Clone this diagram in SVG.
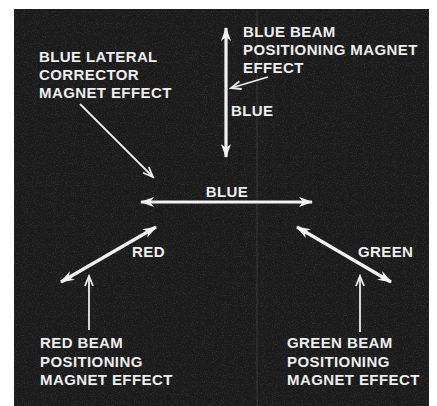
<svg xmlns="http://www.w3.org/2000/svg" width="437" height="406" viewBox="0 0 437 406">
<style>
.lbl{font-family:"Liberation Sans",Arial,sans-serif;font-weight:bold;font-size:15px;fill:#eeeeee;letter-spacing:0.4px}
.main{stroke:#f2f2f2;stroke-width:3.2;fill:none}
.ptr{stroke:#ececec;stroke-width:1.8;fill:none}
</style>
<defs>
<marker id="head" markerUnits="userSpaceOnUse" viewBox="-14 -6 16 12" refX="0" refY="0" markerWidth="16" markerHeight="12" orient="auto-start-reverse">
<path d="M-13,-5 L1,0 L-13,5 L-9,0 z" fill="#f2f2f2"/>
</marker>
<marker id="open" markerUnits="userSpaceOnUse" viewBox="-12 -6 14 12" refX="0" refY="0" markerWidth="14" markerHeight="12" orient="auto">
<path d="M-10,-4 L0,0 L-10,4" fill="none" stroke="#ececec" stroke-width="1.8"/>
</marker>
<filter id="grain" x="0" y="0" width="100%" height="100%">
<feTurbulence type="fractalNoise" baseFrequency="0.9" numOctaves="2" seed="3" result="n"/>
<feColorMatrix type="matrix" values="0 0 0 0 1  0 0 0 0 1  0 0 0 0 1  0 0 0 0.9 -0.45"/>
</filter>
</defs>
<rect width="437" height="406" fill="#ffffff"/>
<rect x="14" y="9" width="415" height="397" fill="#1b1b1b"/>
<rect x="14" y="9" width="415" height="397" filter="url(#grain)" opacity="0.35"/>
<line x1="257" y1="9" x2="257" y2="406" stroke="#555" stroke-width="0.8" opacity="0.6"/>
<g id="connectors">
<line class="main" x1="226" y1="28" x2="226" y2="157" marker-start="url(#head)" marker-end="url(#head)"/>
<line class="main" x1="141" y1="202" x2="312" y2="202" marker-start="url(#head)" marker-end="url(#head)"/>
<line class="main" x1="156" y1="227" x2="61" y2="282" marker-start="url(#head)" marker-end="url(#head)"/>
<line class="main" x1="297" y1="227" x2="391" y2="282" marker-start="url(#head)" marker-end="url(#head)"/>
<line class="ptr" x1="268" y1="77" x2="231" y2="88" marker-end="url(#open)"/>
<line class="ptr" x1="80" y1="104" x2="153" y2="177" marker-end="url(#open)"/>
<line class="ptr" x1="89" y1="330" x2="89" y2="276" marker-end="url(#open)"/>
<line class="ptr" x1="360" y1="332" x2="360" y2="276" marker-end="url(#open)"/>
</g>
<g id="blue-beam-label"><text class="lbl" x="243" y="37">BLUE BEAM</text><text class="lbl" x="243" y="55">POSITIONING MAGNET</text><text class="lbl" x="243" y="73">EFFECT</text></g>
<g id="blue-vertical-label"><text class="lbl" x="231" y="116">BLUE</text></g>
<g id="blue-lateral-label"><text class="lbl" x="39" y="62">BLUE LATERAL</text><text class="lbl" x="39" y="80">CORRECTOR</text><text class="lbl" x="39" y="98">MAGNET EFFECT</text></g>
<g id="blue-horizontal-label"><text class="lbl" x="227" y="197" text-anchor="middle">BLUE</text></g>
<g id="red-label"><text class="lbl" x="132" y="257">RED</text></g>
<g id="green-label"><text class="lbl" x="358" y="257">GREEN</text></g>
<g id="red-beam-label"><text class="lbl" x="40" y="348">RED BEAM</text><text class="lbl" x="40" y="367">POSITIONING</text><text class="lbl" x="40" y="385">MAGNET EFFECT</text></g>
<g id="green-beam-label"><text class="lbl" x="287" y="348">GREEN BEAM</text><text class="lbl" x="287" y="367">POSITIONING</text><text class="lbl" x="287" y="385">MAGNET EFFECT</text></g>
</svg>
